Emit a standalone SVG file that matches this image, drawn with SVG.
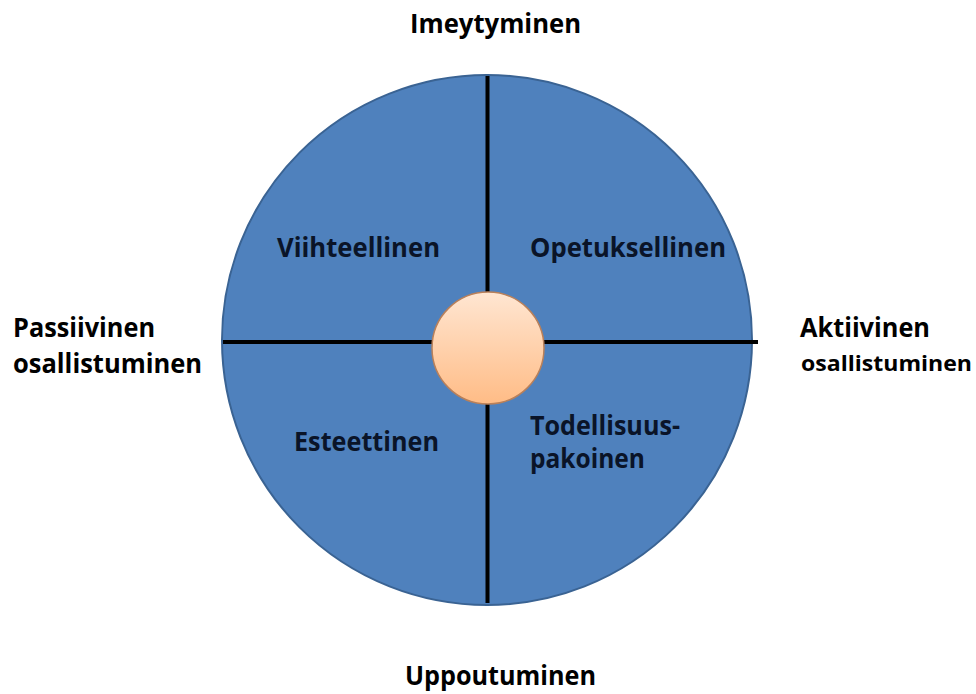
<svg xmlns="http://www.w3.org/2000/svg" width="976" height="694" viewBox="0 0 976 694">
<defs>
<linearGradient id="hub" x1="0" y1="0" x2="0" y2="1">
<stop offset="0" stop-color="#FFE6D2"/>
<stop offset="1" stop-color="#FFBC86"/>
</linearGradient>
<style>
text{font-family:"Open Sans","Liberation Sans",sans-serif;font-weight:bold;fill:#000}
.in{fill:#0A1428}
.ax{stroke:#000;stroke-width:4;fill:none}
</style>
</defs>
<rect width="976" height="694" fill="#fff"/>
<g id="wheel">
<circle cx="487" cy="340" r="265" fill="#4F81BD" stroke="#3A6393" stroke-width="2"/>
</g>
<g id="axes">
<line class="ax" x1="487.5" y1="76" x2="487.5" y2="603"/>
<line class="ax" x1="223" y1="342" x2="758" y2="342"/>
</g>
<g id="hub-node">
<circle cx="488" cy="348" r="56" fill="url(#hub)" stroke="#B9805A" stroke-width="1.5"/>
</g>
<g id="q-viihteellinen"><text class="in" x="277" y="257" font-size="26" textLength="163" lengthAdjust="spacingAndGlyphs">Viihteellinen</text></g>
<g id="q-opetuksellinen"><text class="in" x="530" y="257" font-size="26" textLength="196" lengthAdjust="spacingAndGlyphs">Opetuksellinen</text></g>
<g id="q-esteettinen"><text class="in" x="294" y="451" font-size="26" textLength="145" lengthAdjust="spacingAndGlyphs">Esteettinen</text></g>
<g id="q-todellisuus"><text class="in" x="530" y="435" font-size="26" textLength="150" lengthAdjust="spacingAndGlyphs">Todellisuus-</text><text class="in" x="530" y="468" font-size="26" textLength="115" lengthAdjust="spacingAndGlyphs">pakoinen</text></g>
<g id="l-top"><text x="410" y="33" font-size="26" textLength="171" lengthAdjust="spacingAndGlyphs">Imeytyminen</text></g>
<g id="l-bottom"><text x="405" y="685" font-size="26" textLength="191" lengthAdjust="spacingAndGlyphs">Uppoutuminen</text></g>
<g id="l-left"><text x="13" y="337" font-size="26" textLength="142" lengthAdjust="spacingAndGlyphs">Passiivinen</text><text x="13" y="373" font-size="26" textLength="189" lengthAdjust="spacingAndGlyphs">osallistuminen</text></g>
<g id="l-right"><text x="800" y="337" font-size="26" textLength="130" lengthAdjust="spacingAndGlyphs">Aktiivinen</text><text x="801" y="371" font-size="22" textLength="171" lengthAdjust="spacingAndGlyphs">osallistuminen</text></g>
</svg>
